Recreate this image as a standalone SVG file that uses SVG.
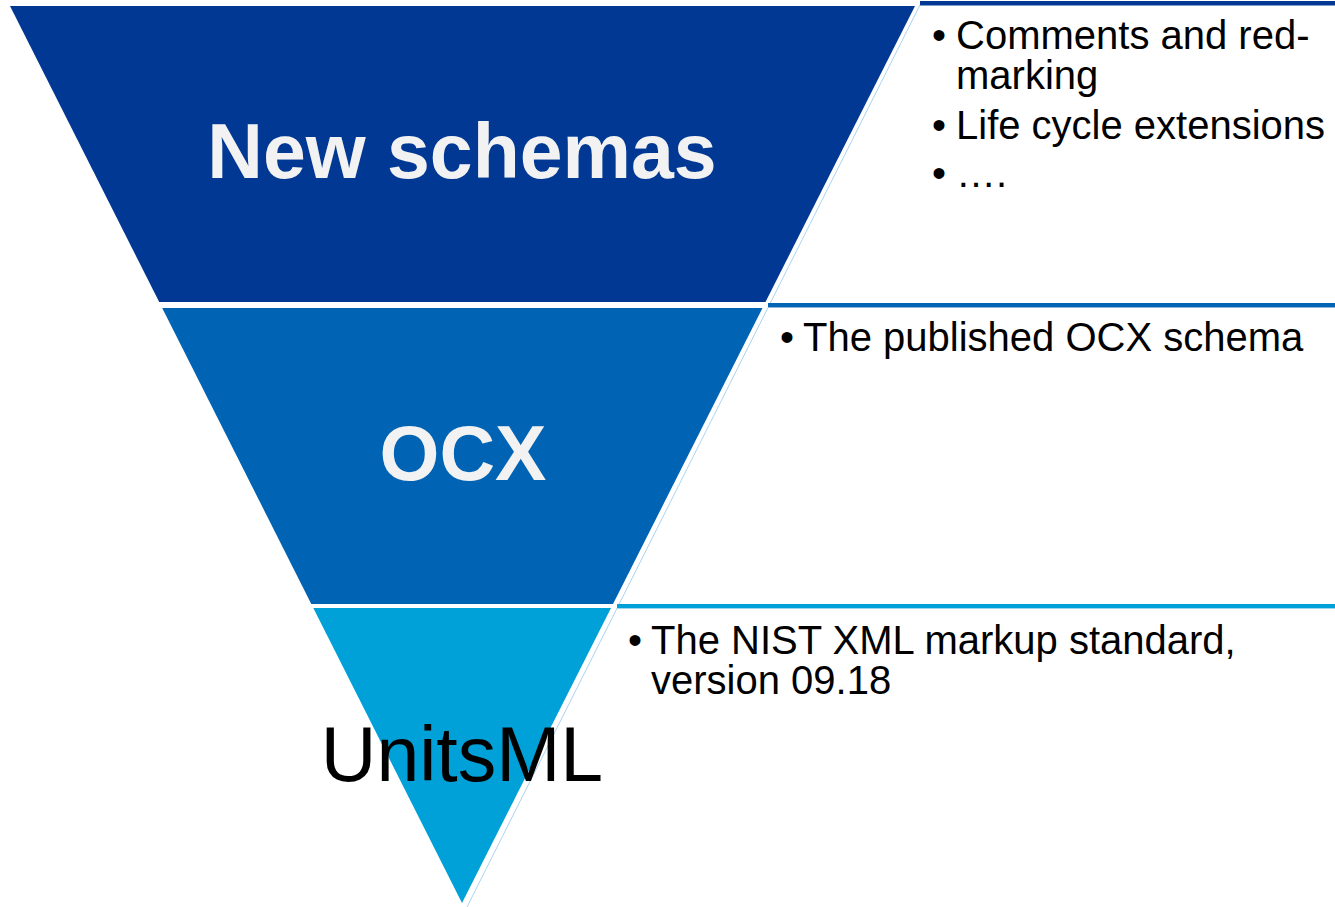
<svg xmlns="http://www.w3.org/2000/svg" width="1335" height="907" viewBox="0 0 1335 907">
<style>
.lbl{font-family:"Liberation Sans",Arial,sans-serif;font-weight:bold;fill:#f2f2f2;text-anchor:middle}
.txt{font-family:"Liberation Sans",Arial,sans-serif;font-size:40px;fill:#000}
.edge{stroke:#a9d4ee;stroke-width:1;fill:none}
</style>
<rect width="1335" height="907" fill="#fff"/>
<g id="connectors">
<line class="edge" x1="921" y1="3" x2="467" y2="907"/>
</g>
<g id="new-schemas">
<polygon points="10,6 915,6 765.5,302 159.2,302" fill="#003893"/>
<text class="lbl" x="462" y="178" font-size="77">New schemas</text>
</g>
<g id="new-schemas-notes">
<rect x="920" y="1" width="415" height="4" fill="#003893"/>
<rect x="920" y="5" width="415" height="1" fill="#7f9cc9"/>
<text class="txt" x="932" y="49">•</text>
<text class="txt" x="956" y="49">Comments and red-</text>
<text class="txt" x="956" y="89">marking</text>
<text class="txt" x="932" y="139">•</text>
<text class="txt" x="956" y="139">Life cycle extensions</text>
<text class="txt" x="932" y="187">•</text>
<text class="txt" x="956" y="187">….</text>
</g>
<g id="ocx">
<polygon points="162.2,308 762.5,308 613,604 311.3,604" fill="#0063b3"/>
<text class="lbl" x="463" y="480" font-size="77">OCX</text>
</g>
<g id="ocx-notes">
<rect x="768" y="303" width="567" height="4" fill="#0063b3"/>
<rect x="768" y="307" width="567" height="1" fill="#8fb8e0"/>
<text class="txt" x="780" y="351">•</text>
<text class="txt" x="803" y="351">The published OCX schema</text>
</g>
<g id="unitsml">
<polygon points="313.3,608 611,608 462,903" fill="#00a0d8"/>
<text x="462" y="781" font-family="Liberation Sans,Arial,sans-serif" font-size="77" fill="#000" text-anchor="middle">UnitsML</text>
</g>
<g id="unitsml-notes">
<rect x="617" y="604" width="718" height="4" fill="#00a0d8"/>
<rect x="617" y="608" width="718" height="1" fill="#9fd6ef"/>
<text class="txt" x="628" y="654">•</text>
<text class="txt" x="651" y="654">The NIST XML markup standard,</text>
<text class="txt" x="651" y="694">version 09.18</text>
</g>
</svg>
